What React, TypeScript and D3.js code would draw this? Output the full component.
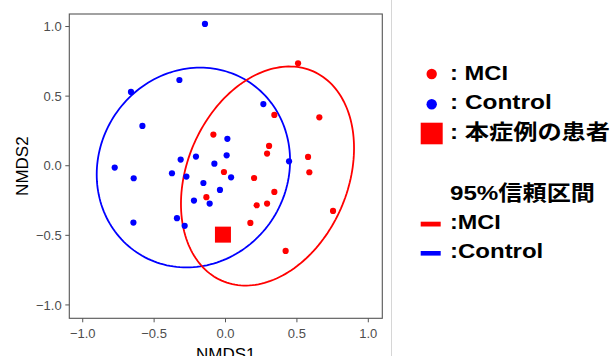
import React from "react";
import * as d3 from "d3";

// ---- data ----
const controlX = [-0.144, -0.323, -0.662, -0.582, 0.265, 0.013, 0.008, -0.207, -0.314, -0.078, 0.445, -0.776, -0.643, -0.375, -0.274, 0.039, -0.155, -0.039, -0.221, -0.111, -0.645, -0.340, -0.286];
const controlY = [1.019, 0.616, 0.530, 0.286, 0.443, 0.193, 0.075, 0.066, 0.044, 0.015, 0.032, -0.013, -0.090, -0.054, -0.078, -0.083, -0.124, -0.174, -0.250, -0.272, -0.408, -0.377, -0.432];
const mciX = [0.508, 0.657, 0.342, -0.085, 0.305, 0.291, 0.578, 0.587, -0.011, 0.200, 0.342, -0.134, 0.218, 0.291, 0.753, 0.174, 0.421];
const mciY = [0.736, 0.348, 0.365, 0.224, 0.142, 0.087, 0.063, -0.047, -0.045, -0.088, -0.188, -0.226, -0.284, -0.272, -0.325, -0.411, -0.612];
const patientXY = [-0.018, -0.495];

// ellipse: [cx, cy, p, q, r]  x = cx + p cos t ; y = cy + q cos t + r sin t
const controlEllipse = [-0.225, -0.013, 0.677, 0.05, 0.716];
const mciEllipse = [0.294, -0.074, 0.606, 0.2, 0.761];

const xTicks = [-1.0, -0.5, 0.0, 0.5, 1.0];
const yTicks = [-1.0, -0.5, 0.0, 0.5, 1.0];
const xLim = [-1.094, 1.098];
const yLim = [-1.096, 1.09];

const legendItems = [": MCI", ": Control", ": 本症例の患者"];
const legendTitle = "95%信頼区間";
const legendLines = [":MCI", ":Control"];

const RED = "#ff0000";
const BLUE = "#0000ff";

export default function App() {
  const W = 612, H = 356;
  const x = d3.scaleLinear().domain(xLim).range([69.3, 382.3]);
  const y = d3.scaleLinear().domain(yLim).range([318.3, 14]);

  const ts = d3.range(0, 361, 2).map((d) => (d * Math.PI) / 180);
  const ellPath = (e: number[]) =>
    d3
      .line<number>()
      .x((t) => x(e[0] + e[2] * Math.cos(t)))
      .y((t) => y(e[1] + e[3] * Math.cos(t) + e[4] * Math.sin(t)))
      .curve(d3.curveLinearClosed)(ts) as string;

  const tickColor = "#4d4d4d";
  const font = "'Liberation Sans', Arial, sans-serif";
  const legFont = "'Liberation Sans', Arial, 'Noto Sans CJK JP', sans-serif";
  const [x0, x1] = x.range();
  const [y0, y1] = y.range();

  return (
    <svg width={W} height={H} style={{ position: "absolute", left: 0, top: 0 }} fontFamily={font}>
      <rect width={W} height={H} fill="#fff" />
      <line x1={391.5} x2={391.5} y1={0} y2={H} stroke="#d6d6d6" strokeWidth={1} />

      {/* panel border */}
      <rect x={x0} y={y1} width={x1 - x0} height={y0 - y1} fill="none" stroke="#555" strokeWidth={1.1} />

      {/* x axis */}
      {xTicks.map((t) => (
        <g key={"xt" + t}>
          <line x1={x(t)} x2={x(t)} y1={y0} y2={y0 + 4} stroke="#555" />
          <text x={x(t)} y={337.5} textAnchor="middle" fontSize={13} fill={tickColor}>
            {d3.format(".1f")(t)}
          </text>
        </g>
      ))}
      {yTicks.map((t) => (
        <g key={"yt" + t}>
          <line x1={x0 - 4} x2={x0} y1={y(t)} y2={y(t)} stroke="#555" />
          <text x={61.7} y={y(t)} dy="0.36em" textAnchor="end" fontSize={13} fill={tickColor}>
            {d3.format(".1f")(t)}
          </text>
        </g>
      ))}
      <text x={(x0 + x1) / 2} y={359.5} textAnchor="middle" fontSize={17} fill="#000">NMDS1</text>
      <text transform={`translate(28,${(y0 + y1) / 2}) rotate(-90)`} textAnchor="middle" fontSize={17} fill="#000">NMDS2</text>

      {/* ellipses */}
      <path d={ellPath(controlEllipse)} fill="none" stroke={BLUE} strokeWidth={1.8} />
      <path d={ellPath(mciEllipse)} fill="none" stroke={RED} strokeWidth={1.8} />

      {/* points */}
      {controlX.map((v, i) => (
        <circle key={"c" + i} cx={x(v)} cy={y(controlY[i])} r={3.1} fill={BLUE} />
      ))}
      {mciX.map((v, i) => (
        <circle key={"m" + i} cx={x(v)} cy={y(mciY[i])} r={3.1} fill={RED} />
      ))}
      <rect x={x(patientXY[0]) - 8} y={y(patientXY[1]) - 8} width={16} height={16} fill={RED} />

      {/* legend */}
      <g fontFamily={legFont} fontWeight="bold" fill="#000">
        <circle cx={431.7} cy={74} r={5.2} fill={RED} />
        <text x={450} y={80} fontSize={20} textLength={58} lengthAdjust="spacingAndGlyphs">{legendItems[0]}</text>
        <circle cx={431.7} cy={104.3} r={5.2} fill={BLUE} />
        <text x={450} y={109} fontSize={20} textLength={101.7} lengthAdjust="spacingAndGlyphs">{legendItems[1]}</text>
        <rect x={420.7} y={122.7} width={22} height={21.6} fill={RED} />
        <text x={450} y={139} fontSize={21} textLength={160} lengthAdjust="spacingAndGlyphs">{legendItems[2]}</text>

        <text x={450} y={199.5} fontSize={21} textLength={145} lengthAdjust="spacingAndGlyphs">{legendTitle}</text>
        <rect x={420.7} y={221.7} width={20} height={4.8} fill={RED} />
        <text x={450} y={229} fontSize={20} textLength={50.7} lengthAdjust="spacingAndGlyphs">{legendLines[0]}</text>
        <rect x={420.7} y={251} width={20} height={4.6} fill={BLUE} />
        <text x={450} y={257.7} fontSize={20} textLength={93.3} lengthAdjust="spacingAndGlyphs">{legendLines[1]}</text>
      </g>
    </svg>
  );
}
